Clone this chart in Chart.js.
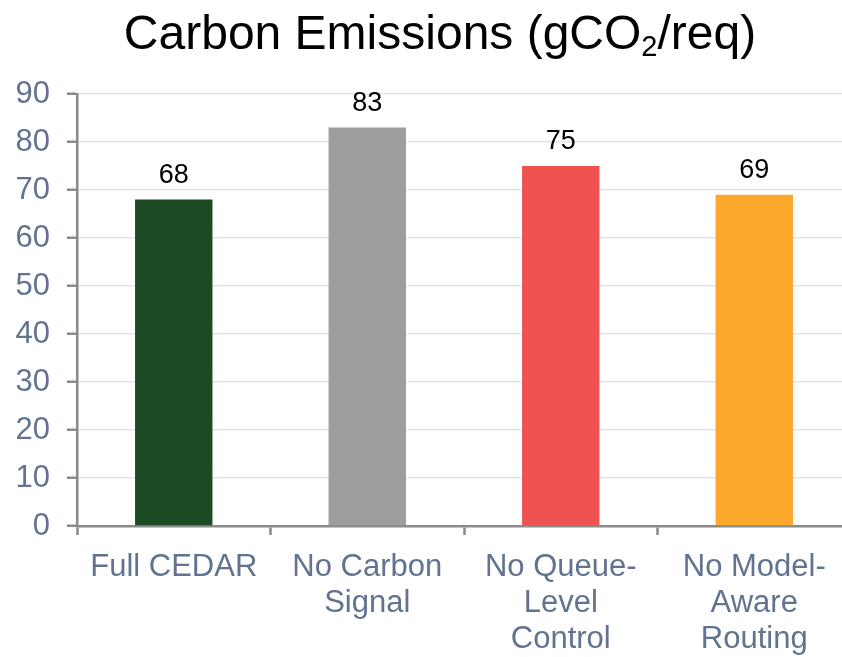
<!DOCTYPE html>
<html>
<head>
<meta charset="utf-8">
<script src="https://cdn.jsdelivr.net/npm/chart.js@4/dist/chart.umd.min.js"></script>
<style>
  html, body { margin: 0; padding: 0; background: #ffffff; overflow: hidden; }
  #wrap { width: 860px; height: 657px; position: relative; }
</style>
</head>
<body>
<div id="wrap"><canvas id="chart"></canvas></div>
<script>
// Ablation results: carbon emitted per request
const categories = [
  ["Full CEDAR"],
  ["No Carbon", "Signal"],
  ["No Queue-", "Level", "Control"],
  ["No Model-", "Aware", "Routing"]
];
const emissions = [68, 83, 75, 69];
const barColors = ["#1c4b23", "#9e9e9e", "#ee5350", "#fca82a"];
const yTicks = [0, 10, 20, 30, 40, 50, 60, 70, 80, 90];

const FONT = "'Liberation Sans', Arial, Helvetica, sans-serif";
const AXIS_GREY = "#8a8a8a";
const LABEL_SLATE = "#61738e";

// Title with a real subscript in "CO2"
const titlePlugin = {
  id: "subscriptTitle",
  afterDraw(chart) {
    const ctx = chart.ctx;
    const parts = [
      { t: "Carbon Emissions (gCO", size: 48, dy: 0 },
      { t: "2", size: 29, dy: 7 },
      { t: "/req)", size: 48, dy: 0 }
    ];
    ctx.save();
    ctx.fillStyle = "#000000";
    ctx.textBaseline = "alphabetic";
    ctx.textAlign = "left";
    let total = 0;
    parts.forEach(p => {
      ctx.font = p.size + "px " + FONT;
      p.w = ctx.measureText(p.t).width;
      total += p.w;
    });
    let x = 440 - total / 2;
    const baseY = 49;
    parts.forEach(p => {
      ctx.font = p.size + "px " + FONT;
      ctx.fillText(p.t, x, baseY + p.dy);
      x += p.w;
    });
    ctx.restore();
  }
};

// Value printed above each bar
const valueLabels = {
  id: "valueLabels",
  afterDatasetsDraw(chart) {
    const ctx = chart.ctx;
    const meta = chart.getDatasetMeta(0);
    ctx.save();
    ctx.font = "27px " + FONT;
    ctx.fillStyle = "#000000";
    ctx.textAlign = "center";
    ctx.textBaseline = "alphabetic";
    meta.data.forEach((bar, i) => {
      ctx.fillText(String(Math.round(emissions[i])), bar.x, bar.y - 17);
    });
    ctx.restore();
  }
};

new Chart(document.getElementById("chart"), {
  type: "bar",
  data: {
    labels: categories,
    datasets: [{
      data: emissions,
      backgroundColor: barColors,
      borderWidth: 0,
      categoryPercentage: 1.0,
      barPercentage: 0.4
    }]
  },
  options: {
    responsive: true,
    maintainAspectRatio: false,
    animation: false,
    layout: { padding: { left: 16, right: 9, top: 94, bottom: 0 } },
    plugins: {
      legend: { display: false },
      title: { display: false },
      tooltip: { enabled: false }
    },
    scales: {
      x: {
        grid: {
          offset: true,
          drawOnChartArea: false,
          drawTicks: true,
          tickLength: 9,
          tickColor: AXIS_GREY,
          tickWidth: 2.5
        },
        border: { color: AXIS_GREY, width: 2.5 },
        ticks: {
          color: LABEL_SLATE,
          font: { family: FONT, size: 31, lineHeight: 1.15 },
          padding: 15,
          maxRotation: 0,
          autoSkip: false
        },
        afterFit(scale) { scale.height = 131; }
      },
      y: {
        min: 0,
        max: 90,
        afterBuildTicks(scale) { scale.ticks = yTicks.map(v => ({ value: v })); },
        grid: {
          color: "#dde6f1",
          lineWidth: 1.5,
          drawTicks: true,
          tickLength: 10,
          tickColor: AXIS_GREY,
          tickWidth: 2.5
        },
        border: { color: AXIS_GREY, width: 2.5 },
        ticks: {
          color: LABEL_SLATE,
          font: { family: FONT, size: 31 },
          padding: 17
        },
        afterFit(scale) { scale.width = 61; }
      }
    }
  },
  plugins: [titlePlugin, valueLabels]
});
</script>
</body>
</html>
